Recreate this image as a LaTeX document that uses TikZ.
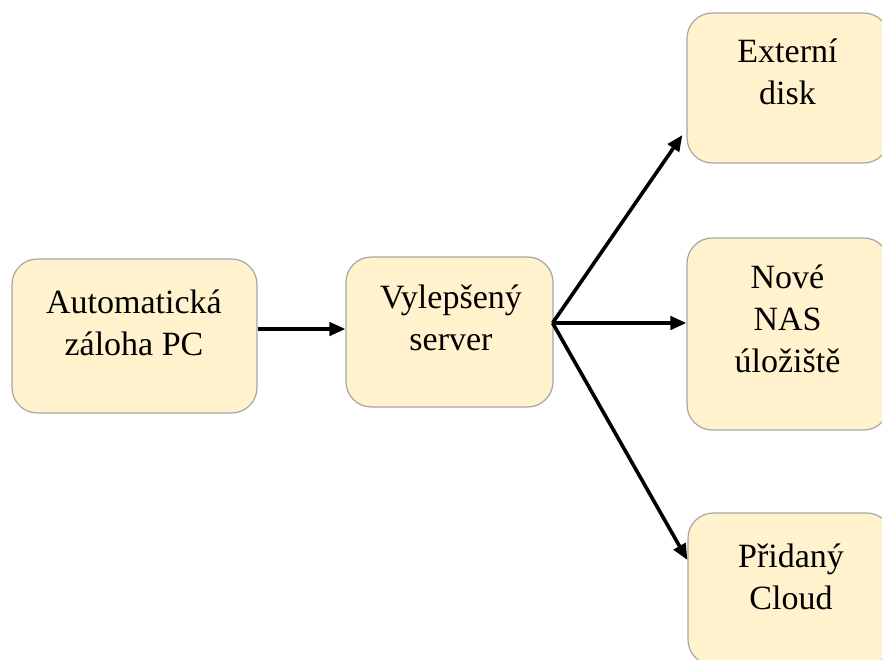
\documentclass[tikz,border=0pt]{standalone}
\usepackage{fontspec}
\setmainfont{Liberation Serif}
\usetikzlibrary{arrows.meta,calc}
\definecolor{boxfill}{HTML}{FFF2CC}
\definecolor{boxline}{HTML}{A6A6A6}
\tikzset{
  stepbox/.style={draw=boxline, line width=0.9pt, fill=boxfill, rounded corners=19pt, inner sep=0pt},
  boxtext/.style={anchor=north, align=center, inner sep=0pt, font=\fontsize{25.5}{31.5}\selectfont},
  arr/.style={line width=2.7pt, -{Triangle[length=12pt,width=10pt]}}
}
\begin{document}
\begin{tikzpicture}[x=0.75pt,y=-0.75pt]
\useasboundingbox (0,0) rectangle (882,660);
\clip (0,0) rectangle (882,660);
\node[stepbox, minimum width=245*0.75pt, minimum height=154*0.75pt] (b1) at (134.5,336) {};
\node[stepbox, minimum width=207*0.75pt, minimum height=150*0.75pt] (b2) at (449.5,332) {};
\node[stepbox, minimum width=202*0.75pt, minimum height=150*0.75pt] (b3) at (788,88) {};
\node[stepbox, minimum width=202*0.75pt, minimum height=192*0.75pt] (b4) at (788,334) {};
\node[stepbox, minimum width=204*0.75pt, minimum height=152*0.75pt] (b5) at (790,589) {};

\node[boxtext] (t1) at (134,289.5) {Automatická\\záloha PC};
\node[boxtext] (t2) at (451,284.5) {Vylepšený\\server};
\node[boxtext] (t3) at (787.5,38.5) {Externí\\disk};
\node[boxtext] (t4) at (787.5,265) {Nové\\NAS\\úložiště};
\node[boxtext] (t5) at (791,543.5) {Přidaný\\Cloud};

\coordinate (hub) at ($(b2.east)+(-1,-9)$);
\coordinate (e1) at ($(b2.west)+(0,-3)$);
\coordinate (s1) at (b1.east |- e1);
\coordinate (e3) at ($(b3.west)+(-4,47)$);
\coordinate (e4) at (b4.west |- hub);
\coordinate (e5) at ($(b5.west)+(0,-29)$);

\draw[arr] (s1) -- (e1);
\draw[arr] (hub) -- (e3);
\draw[arr] (hub) -- (e4);
\draw[arr] (hub) -- (e5);
\end{tikzpicture}
\end{document}
